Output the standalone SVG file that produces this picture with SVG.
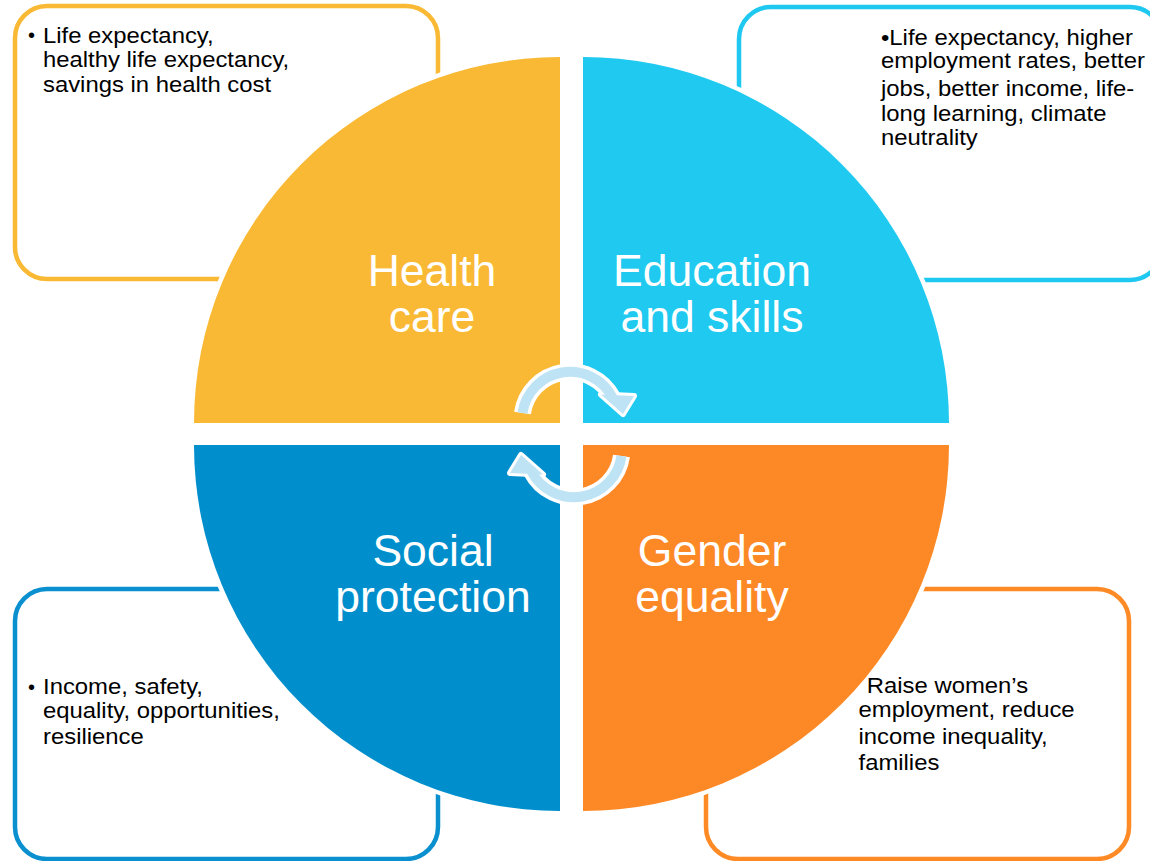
<svg xmlns="http://www.w3.org/2000/svg" width="1150" height="861" viewBox="0 0 1150 861">
<style>
.box{fill:#fff;stroke-width:4.5}
.q{stroke:#fff;stroke-width:9;paint-order:stroke}
.title{font-family:"Liberation Sans",Arial,sans-serif;font-size:44.5px;fill:#fff;text-anchor:middle}
.body{font-family:"Liberation Sans",Arial,sans-serif;font-size:21.5px;fill:#000}
.bul{font-family:"Liberation Sans",Arial,sans-serif;font-size:20px;fill:#000}
</style>
<defs>
<g id="arrow">
<path d="M522.5,413 A48,48 0 0 1 612.5,397.5" fill="none" stroke="#fff" stroke-width="17"/>
<polygon points="601,394.5 634,396 623,414" fill="#fff" stroke="#fff" stroke-width="6" stroke-linejoin="round"/>
<path d="M522.5,413 A48,48 0 0 1 612.5,397.5" fill="none" stroke="#BDE3F5" stroke-width="10"/>
<polygon points="601,394.5 634,396 623,414" fill="#BDE3F5"/>
</g>
</defs>
<rect width="1150" height="861" fill="#fff"/>

<g id="node-health">
<rect class="box" x="15" y="6" width="423" height="273" rx="32" stroke="#F9B934"/>
<path class="q" d="M560,423 L194,423 A366,366 0 0 1 560,57 Z" fill="#F9B934"/>
<text class="title" x="432" y="286">Health</text>
<text class="title" x="432" y="332">care</text>
<text class="bul" x="28" y="42">•</text>
<g transform="translate(43,0) scale(1.11,1)">
<text class="body" x="0" y="43">Life expectancy,</text>
<text class="body" x="0" y="67">healthy life expectancy,</text>
<text class="body" x="0" y="92.5">savings in health cost</text>
</g>
</g>

<g id="node-education">
<rect class="box" x="739" y="7" width="423" height="273" rx="32" stroke="#1FC8F0"/>
<path class="q" d="M583,423 L583,57 A366,366 0 0 1 949,423 Z" fill="#1FC9F0"/>
<text class="title" x="712" y="286">Education</text>
<text class="title" x="712" y="332">and skills</text>
<g transform="translate(881,0) scale(1.11,1)">
<text class="body" x="0" y="45">•Life expectancy, higher</text>
<text class="body" x="0" y="68.5">employment rates, better</text>
<text class="body" x="0" y="96">jobs, better income, life-</text>
<text class="body" x="0" y="121.5">long learning, climate</text>
<text class="body" x="0" y="145.5">neutrality</text>
</g>
</g>

<g id="node-social">
<rect class="box" x="15" y="589" width="423" height="270" rx="32" stroke="#0A8FCF"/>
<path class="q" d="M560,445 L560,811 A366,366 0 0 1 194,445 Z" fill="#008FCC"/>
<text class="title" x="433" y="566">Social</text>
<text class="title" x="433" y="612">protection</text>
<text class="bul" x="28" y="693.5">•</text>
<g transform="translate(43,0) scale(1.11,1)">
<text class="body" x="0" y="694.5">Income, safety,</text>
<text class="body" x="0" y="718">equality, opportunities,</text>
<text class="body" x="0" y="744.5">resilience</text>
</g>
</g>

<g id="node-gender">
<rect class="box" x="706" y="589" width="423" height="270" rx="32" stroke="#FD8A25"/>
<path class="q" d="M583,445 L949,445 A366,366 0 0 1 583,811 Z" fill="#FC8926"/>
<text class="title" x="712" y="566">Gender</text>
<text class="title" x="712" y="612">equality</text>
<g transform="translate(858.5,0) scale(1.11,1)">
<text class="body" x="7.5" y="693.5">Raise women’s</text>
<text class="body" x="0" y="717.5">employment, reduce</text>
<text class="body" x="0" y="744">income inequality,</text>
<text class="body" x="0" y="770.5">families</text>
</g>
</g>

<g id="connectors">
<use href="#arrow"/>
<use href="#arrow" transform="rotate(180 572 434.5)"/>
</g>
</svg>
